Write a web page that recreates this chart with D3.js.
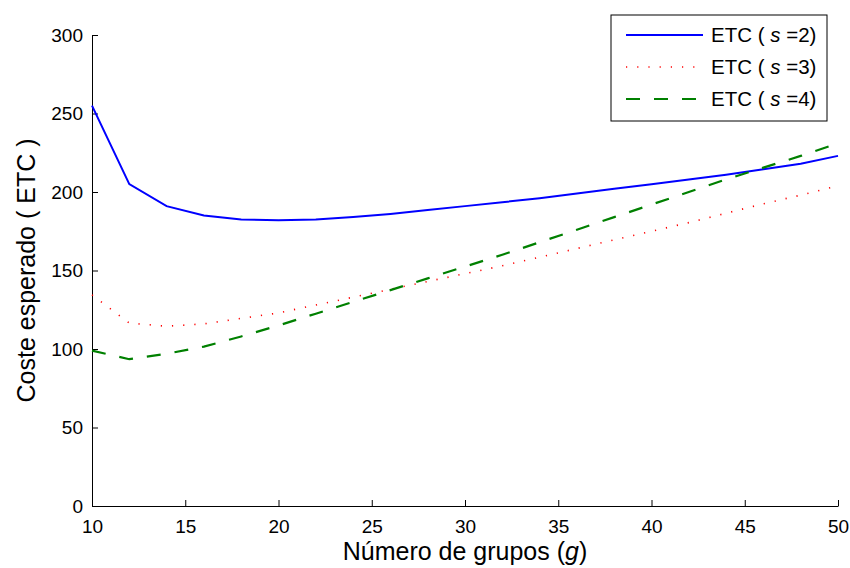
<!DOCTYPE html>
<meta charset="utf-8">
<style>
  body { margin: 0; background: #fff; }
  text { font-family: "Liberation Sans", Arial, sans-serif; fill: #000; }
  .axis path, .axis line { stroke: #000; stroke-width: 1px; }
  .axis text { font-size: 19px; }
</style>
<body>
<script src="https://cdn.jsdelivr.net/npm/d3@7"></script>
<script>

  var grupos = [10,12,14,16,18,20,22,24,26,28,30,32,34,36,38,40,42,44,46,48,50];
  var etcS2 = [255,205,191,185,182.5,182,182.5,184,186,188.5,191,193.5,196,199,202,205,208,211,214.5,218,223];
  var etcS3 = [134.5,116.5,114.5,116,119.5,123,128,133,138,143,148,153,158.5,164,169.5,175,180.5,186.5,192.5,198,204];
  var etcS4 = [99,93.5,97,101.5,108,115,122.5,130,137.5,145,152.5,160,168,176,184,192,200,208,215.5,223,231];
  var xTicks = [10,15,20,25,30,35,40,45,50];
  var yTicks = [0,50,100,150,200,250,300];

  var series = [
    {s: 2, values: etcS2, color: "#0000ff", dash: null, width: 2},
    {s: 3, values: etcS3, color: "#ff0000", dash: "1.2,10", width: 1.6},
    {s: 4, values: etcS4, color: "#008000", dash: "14,14", width: 2.2}
  ];

  var W = 850, H = 568;
  var m = {left: 92, right: 12, top: 35, bottom: 62};

  var svg = d3.select("body").append("svg").attr("width", W).attr("height", H);

  var x = d3.scaleLinear().domain([10, 50]).range([m.left, W - m.right]);
  var y = d3.scaleLinear().domain([0, 300]).range([H - m.bottom, m.top]);

  // axes, ticks inside
  var xAxis = svg.append("g").attr("class", "axis")
      .attr("transform", "translate(0," + (H - m.bottom) + ")")
      .call(d3.axisTop(x).tickValues(xTicks).tickSize(6).tickSizeOuter(0));
  xAxis.selectAll("text").attr("y", 27).attr("dy", 0);

  var yAxis = svg.append("g").attr("class", "axis")
      .attr("transform", "translate(" + m.left + ",0)")
      .call(d3.axisRight(y).tickValues(yTicks).tickSize(6).tickSizeOuter(0));
  yAxis.selectAll("text").attr("x", -9).attr("text-anchor", "end");

  var line = d3.line().x(function(d){ return x(d[0]); }).y(function(d){ return y(d[1]); });

  series.forEach(function(sr){
    svg.append("path")
        .datum(grupos.map(function(g, i){ return [g, sr.values[i]]; }))
        .attr("d", line)
        .attr("fill", "none")
        .attr("stroke", sr.color)
        .attr("stroke-width", sr.width)
        .attr("stroke-dasharray", sr.dash);
  });

  // axis labels
  var xl = svg.append("text").attr("x", (m.left + W - m.right) / 2).attr("y", 560)
      .attr("text-anchor", "middle").style("font-size", "25px");
  xl.append("tspan").text("Número de grupos (");
  xl.append("tspan").style("font-style", "italic").text("g");
  xl.append("tspan").text(")");

  svg.append("text")
      .attr("transform", "translate(35," + ((m.top + H - m.bottom) / 2) + ") rotate(-90)")
      .attr("text-anchor", "middle").style("font-size", "25px")
      .text("Coste esperado ( ETC )");

  // legend
  var lg = svg.append("g").attr("transform", "translate(611,15)");
  lg.append("rect").attr("width", 216).attr("height", 106)
      .attr("fill", "#fff").attr("stroke", "#000").attr("stroke-width", 1);
  series.forEach(function(sr, i){
    var yy = 20 + i * 32;
    lg.append("line").attr("x1", 15).attr("x2", 92).attr("y1", yy).attr("y2", yy)
        .attr("stroke", sr.color).attr("stroke-width", sr.width)
        .attr("stroke-dasharray", sr.dash);
    var t = lg.append("text").attr("x", 100).attr("y", yy).attr("dy", "0.36em")
        .style("font-size", "20.5px");
    t.append("tspan").text("ETC ( ");
    t.append("tspan").style("font-style", "italic").text("s");
    t.append("tspan").text(" =" + sr.s + ")");
  });

</script>
</body>
</html>
